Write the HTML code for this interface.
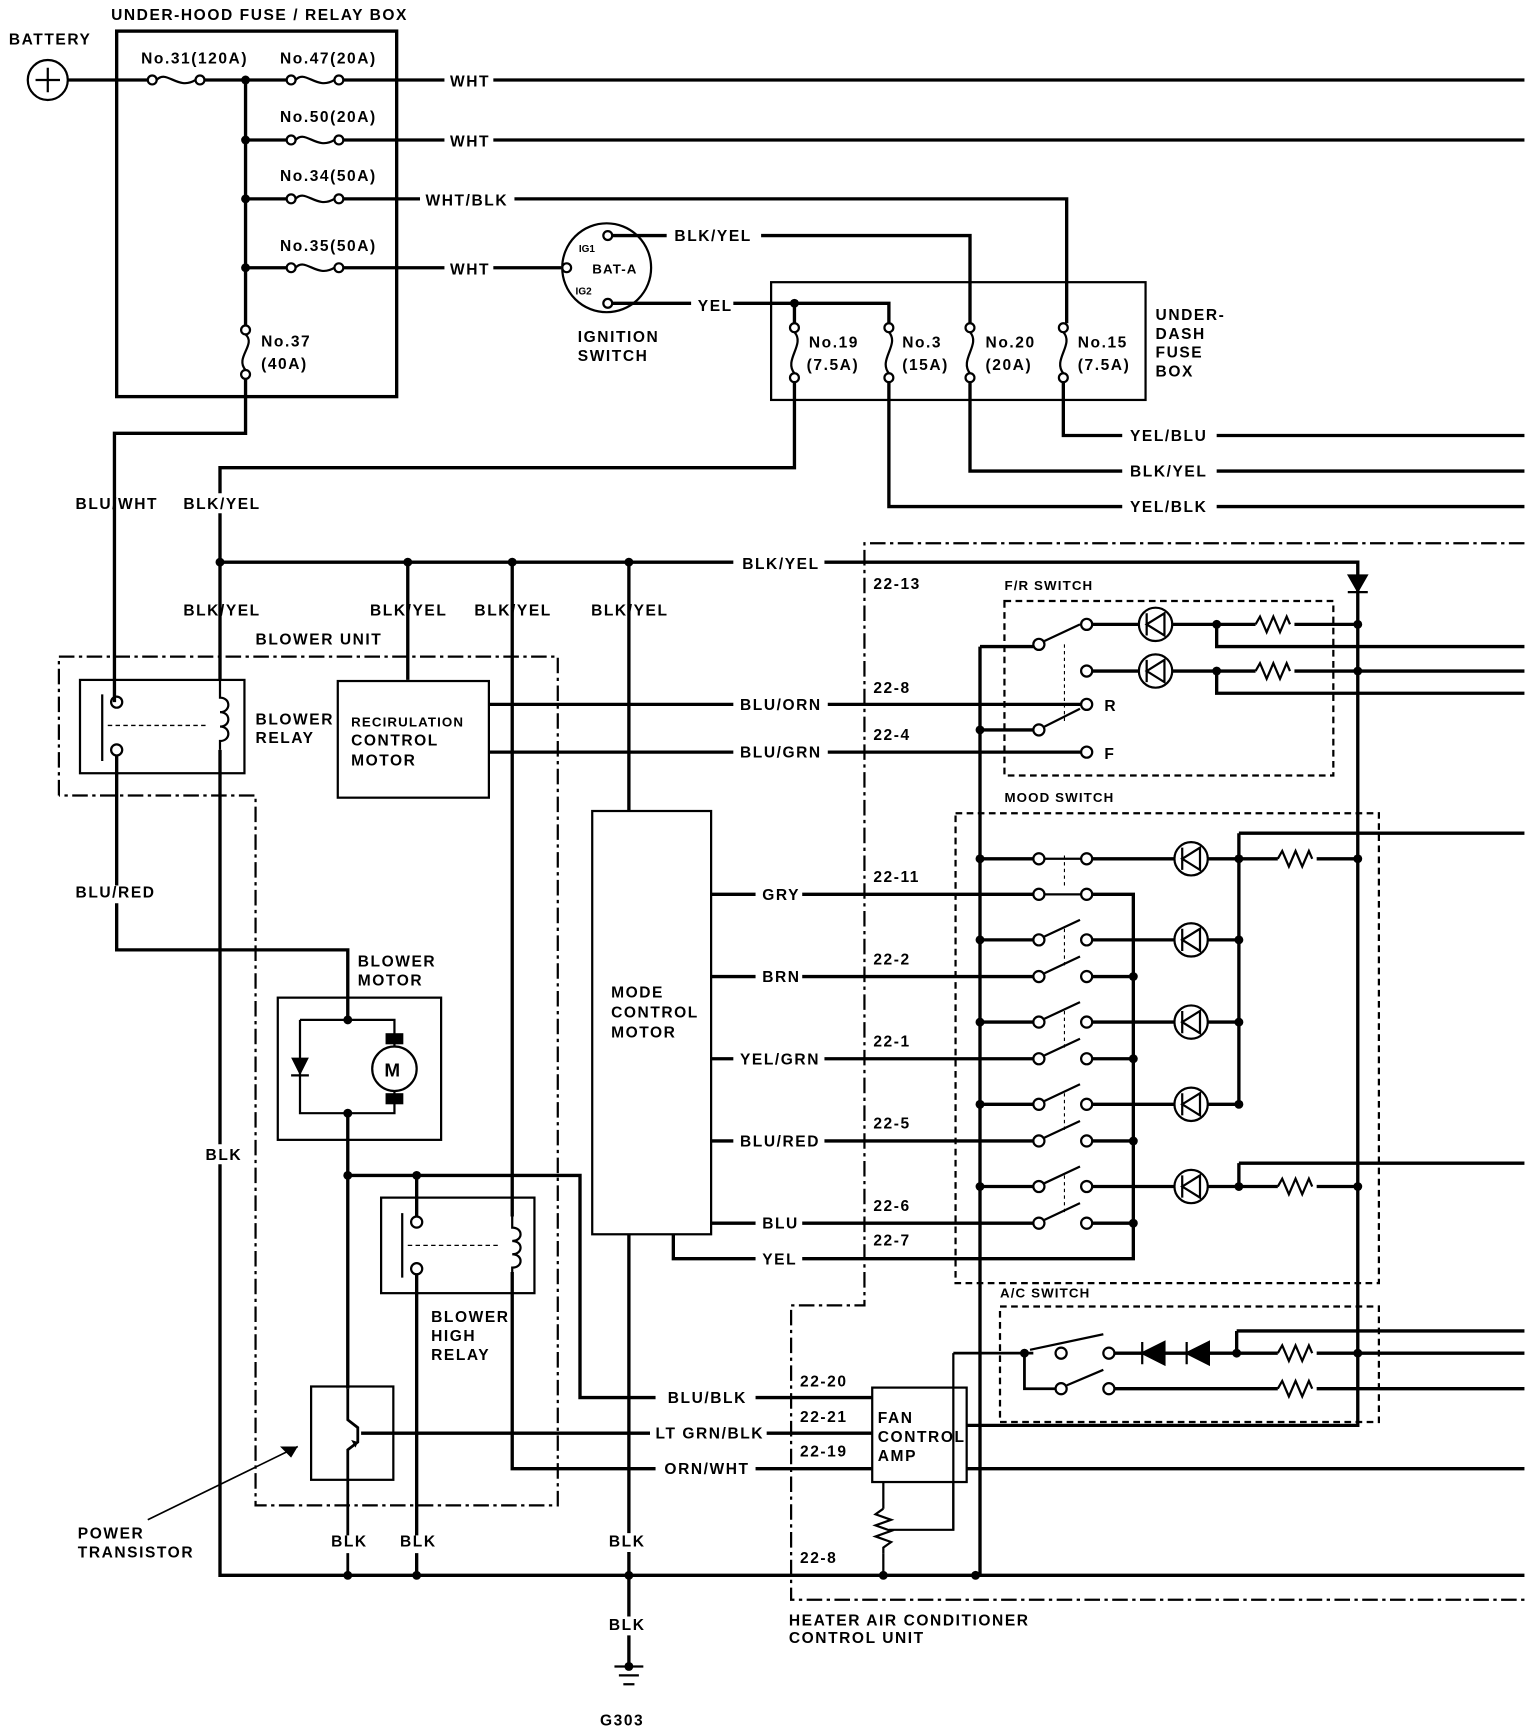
<!DOCTYPE html>
<html><head><meta charset="utf-8"><style>
html,body{margin:0;padding:0;background:#fff;}
svg{display:block;}
text{font-family:"Liberation Sans",sans-serif;font-weight:bold;font-size:14px;letter-spacing:1.4px;fill:#000;}
.s{font-size:12px;letter-spacing:1px;}
.t{font-size:9px;letter-spacing:0;}
</style></head><body>
<svg width="1536" height="1732" viewBox="0 0 1382.4 1559" preserveAspectRatio="none" xmlns="http://www.w3.org/2000/svg">
<g fill="none" stroke="#000" stroke-width="3">
<circle cx="43" cy="72" r="18" stroke-width="2"/>
<path d="M32 72H54M43 61V83" stroke-width="2"/>
<path d="M61 72H133M184 72H258M309 72H400M444 72H1372"/>
<rect x="105" y="28" width="252" height="329"/>
<path d="M221 72V293M221 341V390H103V632"/>
<path d="M221 126H258M309 126H400M444 126H1372"/>
<path d="M221 179H258M309 179H378M463 179H960V291"/>
<path d="M221 241H258M309 241H400M444 241H505"/>
<g stroke-width="2">
<circle cx="137" cy="72" r="4"/><circle cx="180" cy="72" r="4"/><path d="M141 72C150 62 160 82 176 72"/>
<circle cx="262" cy="72" r="4"/><circle cx="305" cy="72" r="4"/><path d="M266 72C275 62 285 82 301 72"/>
<circle cx="262" cy="126" r="4"/><circle cx="305" cy="126" r="4"/><path d="M266 126C275 116 285 136 301 126"/>
<circle cx="262" cy="179" r="4"/><circle cx="305" cy="179" r="4"/><path d="M266 179C275 169 285 189 301 179"/>
<circle cx="262" cy="241" r="4"/><circle cx="305" cy="241" r="4"/><path d="M266 241C275 231 285 251 301 241"/>
<circle cx="221" cy="297" r="4"/><circle cx="221" cy="337" r="4"/><path d="M221 301C231 310 211 322 221 333"/>
</g>
<circle cx="546" cy="241" r="40" stroke-width="2"/>
<g stroke-width="2"><circle cx="547" cy="212" r="4"/><circle cx="510" cy="241" r="4"/><circle cx="547" cy="273" r="4"/></g>
<path d="M551 212H600M685 212H873V291"/>
<path d="M551 273H622M660 273H800V291"/>
<rect x="694" y="254" width="337" height="106" stroke-width="2"/>
<path d="M715 273V291"/>
<g stroke-width="2">
<circle cx="715" cy="295" r="4"/><circle cx="715" cy="340" r="4"/><path d="M715 299C725 310 705 324 715 336"/>
<circle cx="800" cy="295" r="4"/><circle cx="800" cy="340" r="4"/><path d="M800 299C810 310 790 324 800 336"/>
<circle cx="873" cy="295" r="4"/><circle cx="873" cy="340" r="4"/><path d="M873 299C883 310 863 324 873 336"/>
<circle cx="957" cy="295" r="4"/><circle cx="957" cy="340" r="4"/><path d="M957 299C967 310 947 324 957 336"/>
</g>
<path d="M957 344V392H1010M1095 392H1372"/>
<path d="M873 344V424H1010M1095 424H1372"/>
<path d="M800 344V456H1010M1095 456H1372"/>
<path d="M715 344V421H198V444M198 462V612"/>
<path d="M198 506H660M742 506H1222V1283H870"/>
<path d="M367 506V612M461 506V1095M566 506V730"/>
<rect x="72" y="612" width="148" height="84" stroke-width="2"/>
<g stroke-width="2"><circle cx="105" cy="632" r="5"/><circle cx="105" cy="675" r="5"/></g>
<path d="M92 625V685" stroke-width="2"/><path d="M97 653H188" stroke-width="1.2" stroke-dasharray="4 3"/>
<path d="M198 612V628C208 628 208 641 198 641C208 641 208 654 198 654C208 654 208 667 198 667V675" stroke-width="2"/>
<path d="M198 675V1030M198 1048V1418H1372"/>
<path d="M105 680V797M105 813V855H313V918"/>
<rect x="304" y="613" width="136" height="105" stroke-width="2"/>
<path d="M440 634H660M745 634H973"/>
<path d="M440 677H660M745 677H973"/>
<rect x="250" y="898" width="147" height="128" stroke-width="2"/>
<path d="M270 918H355V942M270 918V1002H355V982" stroke-width="2"/>
<circle cx="355" cy="962" r="20" stroke-width="2"/>
<path d="M313 1002V1250M313 1058H522V1258H590M375 1058V1095"/>
<rect x="343" y="1078" width="138" height="86" stroke-width="2"/>
<g stroke-width="2"><circle cx="375" cy="1100" r="5"/><circle cx="375" cy="1142" r="5"/></g>
<path d="M362 1092V1150" stroke-width="2"/><path d="M367 1121H450" stroke-width="1.2" stroke-dasharray="4 3"/>
<path d="M461 1095V1105C471 1105 471 1117 461 1117C471 1117 471 1129 461 1129C471 1129 471 1141 461 1141V1145" stroke-width="2"/>
<path d="M375 1147V1382M375 1398V1418"/>
<path d="M461 1145V1322H590M680 1322H785M870 1322H1372"/>
<rect x="280" y="1248" width="74" height="84" stroke-width="2"/>
<path d="M313 1250V1278L322 1285V1298L313 1305V1382M313 1398V1418" stroke-width="2.5"/>
<path d="M325 1290H585M690 1290H785"/>
<path d="M133 1368L268 1302" stroke-width="1.5"/>
<rect x="533" y="730" width="107" height="381" stroke-width="2"/>
<path d="M640 805H680M722 805H930"/>
<path d="M640 879H680M722 879H930"/>
<path d="M640 953H660M742 953H930"/>
<path d="M640 1027H660M742 1027H930"/>
<path d="M640 1101H680M722 1101H930"/>
<path d="M606 1111V1133H680M722 1133H1020V805H983"/>
<path d="M566 1111V1380M566 1397V1455M566 1472V1500"/>
<path d="M553 1500H579M557 1508H575M561 1516H571" stroke-width="2"/>
<path d="M680 1258H785"/>
<rect x="785" y="1249" width="85" height="85" stroke-width="2"/>
<path d="M795 1334V1358M795 1398V1418M858 1334V1377H800" stroke-width="2"/>
<path d="M795 1358L788 1363L802 1368L788 1373L802 1378L788 1383L802 1388L795 1393V1398" stroke-width="2"/>
<path d="M858 1218V1377" stroke-width="2"/>
<path d="M882 582V1418"/>
<path d="M882 582H930M882 657H930"/>
<g stroke-width="2">
<circle cx="935" cy="580" r="5"/><circle cx="935" cy="657" r="5"/>
<circle cx="978" cy="562" r="5"/><circle cx="978" cy="604" r="5"/><circle cx="978" cy="634" r="5"/><circle cx="978" cy="677" r="5"/>
<path d="M940 577L972 562M940 654L972 638"/>
<path d="M958 580V650" stroke-width="1" stroke-dasharray="3 3"/>
</g>
<path d="M983 562H1025M1055 562H1130M1165 562H1222"/>
<path d="M983 604H1025M1055 604H1130M1165 604H1222"/>
<path d="M1095 562V582H1372M1095 604V624H1372M1222 582H1372M1222 604H1372"/>
<g stroke-width="2"><circle cx="1040" cy="562" r="15"/><circle cx="1040" cy="604" r="15"/>
<path d="M1032 552V572M1032 562L1048 552V572Z"/><path d="M1032 594V614M1032 604L1048 594V614Z"/></g>
<path d="M1130 562l4-7 6 14 6-14 6 14 6-14 3 7M1130 604l4-7 6 14 6-14 6 14 6-14 3 7" stroke-width="2"/>
<path d="M1214 518H1230L1222 532Z M1213 533H1231" fill="#000" stroke-width="2"/>
<g stroke-width="2">
<circle cx="935" cy="773" r="5"/><circle cx="978" cy="773" r="5"/><circle cx="935" cy="805" r="5"/><circle cx="978" cy="805" r="5"/>
<circle cx="935" cy="846" r="5"/><circle cx="978" cy="846" r="5"/><circle cx="935" cy="879" r="5"/><circle cx="978" cy="879" r="5"/>
<circle cx="935" cy="920" r="5"/><circle cx="978" cy="920" r="5"/><circle cx="935" cy="953" r="5"/><circle cx="978" cy="953" r="5"/>
<circle cx="935" cy="994" r="5"/><circle cx="978" cy="994" r="5"/><circle cx="935" cy="1027" r="5"/><circle cx="978" cy="1027" r="5"/>
<circle cx="935" cy="1068" r="5"/><circle cx="978" cy="1068" r="5"/><circle cx="935" cy="1101" r="5"/><circle cx="978" cy="1101" r="5"/>
<path d="M940 773H973M940 805H973"/>
<path d="M940 843L972 828M940 876L972 861M940 917L972 902M940 950L972 935M940 991L972 976M940 1024L972 1009M940 1065L972 1050M940 1098L972 1083"/>
<path d="M958 770V800M958 836V870M958 910V944M958 984V1018M958 1058V1092" stroke-width="1" stroke-dasharray="3 3"/>
</g>
<path d="M882 773H930M882 846H930M882 920H930M882 994H930M882 1068H930"/>
<path d="M983 879H1020M983 953H1020M983 1027H1020M983 1101H1020"/>
<path d="M983 773H1057M983 846H1057M983 920H1057M983 994H1057M983 1068H1057"/>
<g stroke-width="2">
<circle cx="1072" cy="773" r="15"/><circle cx="1072" cy="846" r="15"/><circle cx="1072" cy="920" r="15"/><circle cx="1072" cy="994" r="15"/><circle cx="1072" cy="1068" r="15"/>
<path d="M1064 763V783M1064 773L1080 763V783Z M1064 836V856M1064 846L1080 836V856Z M1064 910V930M1064 920L1080 910V930Z M1064 984V1004M1064 994L1080 984V1004Z M1064 1058V1078M1064 1068L1080 1058V1078Z"/>
</g>
<path d="M1087 773H1150M1185 773H1222M1087 846H1115M1087 920H1115M1087 994H1115M1115 750V994M1115 750H1372"/>
<path d="M1087 1068H1150M1185 1068H1222M1115 1047V1068M1115 1047H1372"/>
<path d="M1150 773l4-7 6 14 6-14 6 14 6-14 3 7M1150 1068l4-7 6 14 6-14 6 14 6-14 3 7" stroke-width="2"/>
<path d="M858 1218H930M922 1218V1250H950" stroke-width="2.5"/>
<g stroke-width="2">
<circle cx="955" cy="1218" r="5"/><circle cx="998" cy="1218" r="5"/><circle cx="955" cy="1250" r="5"/><circle cx="998" cy="1250" r="5"/>
<path d="M927 1215L993 1201M960 1247L993 1233"/>
<path d="M1003 1218H1150M1185 1218H1222M1003 1250H1150M1185 1250H1372M1222 1218H1372M1113 1198V1218M1113 1198H1372" stroke-width="3"/>
<path d="M1150 1218l4-7 6 14 6-14 6 14 6-14 3 7M1150 1250l4-7 6 14 6-14 6 14 6-14 3 7"/>
<path d="M1028 1218L1048 1208V1228Z M1028 1208V1228 M1068 1218L1088 1208V1228Z M1068 1208V1228" fill="#000"/>
</g>
<g stroke-width="2" stroke-dasharray="14 4 3 4">
<path d="M53 716V591H502V1355H230V716H53"/>
<path d="M1372 489H778V1175H712V1440H1372"/>
</g>
<g stroke-width="2" stroke-dasharray="6 4">
<rect x="904" y="541" width="296" height="157"/>
<rect x="860" y="732" width="381" height="423"/>
<rect x="900" y="1176" width="341" height="104"/>
</g>
</g>
<g fill="#000">
<circle cx="221" cy="72" r="4"/><circle cx="221" cy="126" r="4"/><circle cx="221" cy="179" r="4"/><circle cx="221" cy="241" r="4"/>
<circle cx="715" cy="273" r="4"/>
<circle cx="198" cy="506" r="4"/><circle cx="367" cy="506" r="4"/><circle cx="461" cy="506" r="4"/><circle cx="566" cy="506" r="4"/>
<circle cx="313" cy="918" r="4"/><circle cx="313" cy="1002" r="4"/><circle cx="313" cy="1058" r="4"/><circle cx="375" cy="1058" r="4"/>
<circle cx="313" cy="1418" r="4"/><circle cx="375" cy="1418" r="4"/><circle cx="566" cy="1418" r="4"/><circle cx="795" cy="1418" r="4"/><circle cx="878" cy="1418" r="4"/>
<circle cx="1095" cy="562" r="4"/><circle cx="1095" cy="604" r="4"/><circle cx="1222" cy="562" r="4"/><circle cx="1222" cy="604" r="4"/>
<circle cx="882" cy="657" r="4"/><circle cx="882" cy="773" r="4"/><circle cx="882" cy="846" r="4"/><circle cx="882" cy="920" r="4"/><circle cx="882" cy="994" r="4"/><circle cx="882" cy="1068" r="4"/>
<circle cx="1020" cy="879" r="4"/><circle cx="1020" cy="953" r="4"/><circle cx="1020" cy="1027" r="4"/><circle cx="1020" cy="1101" r="4"/>
<circle cx="1115" cy="773" r="4"/><circle cx="1115" cy="846" r="4"/><circle cx="1115" cy="920" r="4"/><circle cx="1115" cy="994" r="4"/><circle cx="1115" cy="1068" r="4"/>
<circle cx="1222" cy="773" r="4"/><circle cx="1222" cy="1068" r="4"/><circle cx="1222" cy="1218" r="4"/><circle cx="1113" cy="1218" r="4"/><circle cx="922" cy="1218" r="4"/>
<circle cx="566" cy="1500" r="4"/>
<path d="M262 952H278L270 968Z"/><path d="M262 968H278" stroke="#000" stroke-width="2"/>
<rect x="347" y="930" width="16" height="10"/><rect x="347" y="984" width="16" height="10"/>
<path d="M268 1302L252 1302L262 1312Z"/>
<path d="M322 1298L316 1296L320 1303Z"/>
</g>
<text x="100" y="18">UNDER-HOOD FUSE / RELAY BOX</text>
<text x="8" y="40">BATTERY</text>
<text x="127" y="57">No.31(120A)</text>
<text x="252" y="57">No.47(20A)</text>
<text x="252" y="110">No.50(20A)</text>
<text x="252" y="163">No.34(50A)</text>
<text x="252" y="226">No.35(50A)</text>
<text x="235" y="312">No.37</text>
<text x="235" y="332">(40A)</text>
<text x="405" y="78">WHT</text><text x="405" y="132">WHT</text><text x="383" y="185">WHT/BLK</text><text x="405" y="247">WHT</text>
<text class="t" x="521" y="227">IG1</text><text class="s" x="533" y="246">BAT-A</text><text class="t" x="518" y="265">IG2</text>
<text x="607" y="217">BLK/YEL</text><text x="628" y="280">YEL</text>
<text x="520" y="308">IGNITION</text><text x="520" y="325">SWITCH</text>
<text x="728" y="313">No.19</text><text x="726" y="333">(7.5A)</text>
<text x="812" y="313">No.3</text><text x="812" y="333">(15A)</text>
<text x="887" y="313">No.20</text><text x="887" y="333">(20A)</text>
<text x="970" y="313">No.15</text><text x="970" y="333">(7.5A)</text>
<text x="1040" y="288">UNDER-</text><text x="1040" y="305">DASH</text><text x="1040" y="322">FUSE</text><text x="1040" y="339">BOX</text>
<text x="1017" y="397">YEL/BLU</text><text x="1017" y="429">BLK/YEL</text><text x="1017" y="461">YEL/BLK</text>
<text x="68" y="458">BLU/WHT</text><text x="165" y="458">BLK/YEL</text>
<text x="668" y="512">BLK/YEL</text>
<text x="165" y="554">BLK/YEL</text><text x="333" y="554">BLK/YEL</text><text x="427" y="554">BLK/YEL</text><text x="532" y="554">BLK/YEL</text>
<text x="230" y="580">BLOWER UNIT</text>
<text x="230" y="652">BLOWER</text><text x="230" y="669">RELAY</text>
<text class="s" x="316" y="654">RECIRULATION</text><text x="316" y="671">CONTROL</text><text x="316" y="689">MOTOR</text>
<text x="666" y="639">BLU/ORN</text><text x="666" y="682">BLU/GRN</text>
<text x="68" y="808">BLU/RED</text>
<text x="322" y="870">BLOWER</text><text x="322" y="887">MOTOR</text>
<text x="346" y="969" style="font-size:17px">M</text>
<text x="185" y="1044">BLK</text>
<text x="550" y="898">MODE</text><text x="550" y="916">CONTROL</text><text x="550" y="934">MOTOR</text>
<text x="686" y="810">GRY</text><text x="686" y="884">BRN</text><text x="666" y="958">YEL/GRN</text><text x="666" y="1032">BLU/RED</text><text x="686" y="1106">BLU</text><text x="686" y="1138">YEL</text>
<text x="388" y="1190">BLOWER</text><text x="388" y="1207">HIGH</text><text x="388" y="1224">RELAY</text>
<text x="601" y="1263">BLU/BLK</text><text x="590" y="1295">LT GRN/BLK</text><text x="598" y="1327">ORN/WHT</text>
<text x="790" y="1281">FAN</text><text x="790" y="1298">CONTROL</text><text x="790" y="1315">AMP</text>
<text x="70" y="1385">POWER</text><text x="70" y="1402">TRANSISTOR</text>
<text x="298" y="1392">BLK</text><text x="360" y="1392">BLK</text><text x="548" y="1392">BLK</text><text x="548" y="1467">BLK</text>
<text x="540" y="1553">G303</text>
<text x="710" y="1463">HEATER AIR CONDITIONER</text><text x="710" y="1479">CONTROL UNIT</text>
<text x="786" y="530">22-13</text><text x="786" y="624">22-8</text><text x="786" y="666">22-4</text>
<text x="786" y="794">22-11</text><text x="786" y="868">22-2</text><text x="786" y="942">22-1</text><text x="786" y="1016">22-5</text><text x="786" y="1090">22-6</text><text x="786" y="1121">22-7</text>
<text x="720" y="1248">22-20</text><text x="720" y="1280">22-21</text><text x="720" y="1311">22-19</text><text x="720" y="1407">22-8</text>
<text class="s" x="904" y="531">F/R SWITCH</text><text class="s" x="904" y="722">MOOD SWITCH</text><text class="s" x="900" y="1168">A/C SWITCH</text>
<text x="994" y="640">R</text><text x="994" y="683">F</text>
</svg>
</body></html>
